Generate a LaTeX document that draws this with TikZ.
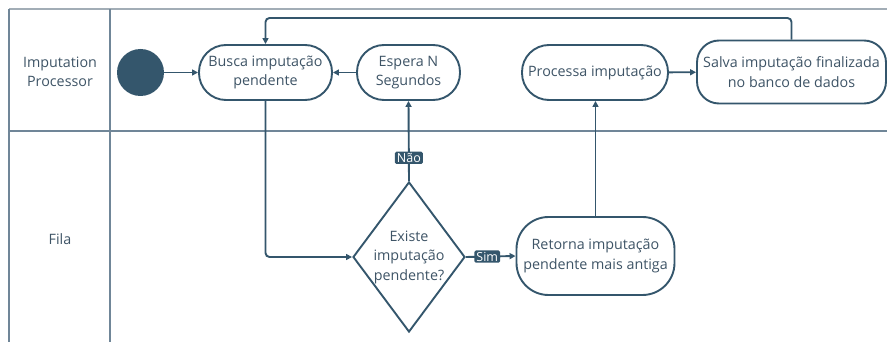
\documentclass[tikz,border=0pt]{standalone}
\usepackage{fontspec}
\setmainfont{Open Sans}
\usepackage{xcolor}
\usepackage{tikz}
\usetikzlibrary{arrows.meta, positioning, shapes.geometric}

\definecolor{slate}{RGB}{52,86,108}
\definecolor{slatetext}{RGB}{62,84,102}
\definecolor{lanegray}{RGB}{112,134,152}
\definecolor{toplight}{RGB}{162,173,182}

\begin{document}
\begin{tikzpicture}[x=1pt, y=-1pt,
    font=\fontsize{14.3}{19.5}\selectfont,
    every node/.style={text=slatetext},
    activity/.style={draw=slate, line width=1.9pt, fill=white, align=center,
      minimum height=55pt, rounded corners=27pt, inner sep=1pt},
    decision/.style={draw=slate, line width=1.9pt, fill=white, diamond, align=center,
      aspect=0.75, inner sep=-4pt, minimum width=112pt, minimum height=150pt},
    flow/.style={draw=slate, line width=1.9pt, -{Triangle[length=6pt, width=6pt]}},
    tag/.style={fill=slate, text=white, rounded corners=1.5pt, inner xsep=2pt,
      inner ysep=1.5pt, font=\fontsize{12.5}{13}\selectfont},
    lane/.style={draw=lanegray, line width=1.3pt}]
  \useasboundingbox (0,0) rectangle (887,342);

  % swimlanes
  \draw[draw=toplight, line width=1.5pt] (9,9) -- (887,9);
  \draw[lane] (9,9) -- (9,342);
  \draw[lane] (110,9) -- (110,342);
  \draw[lane] (9,131) -- (887,131);
  \node[align=center] (proc) at (60,72) {Imputation\\Processor};
  \node (fila) at (60,239) {Fila};

  % activities
  \node[circle, fill=slate, minimum size=47pt, inner sep=0pt] (start) at (140.5,72.5) {};
  \node[activity, minimum width=133pt] (busca) at (265.5,72.5) {Busca imputação\\pendente};
  \node[activity, minimum width=103pt] (espera) at (408.5,72.5) {Espera N\\Segundos};
  \node[activity, minimum width=146pt] (processa) at (595,72.5) {Processa imputação};
  \node[activity, minimum width=189pt, minimum height=63pt, rounded corners=22pt]
    (salva) at (791.5,72) {Salva imputação finalizada\\no banco de dados};
  \node[decision] (existe) at (409,257) {Existe\\imputação\\pendente?};
  \node[activity, minimum width=158pt, minimum height=78pt, rounded corners=32pt]
    (retorna) at (595.5,256) {Retorna imputação\\pendente mais antiga};

  % connectors
  \draw[flow] (start) -- (busca);
  \draw[flow] (espera) -- (busca);
  \draw[flow, rounded corners=4pt] (busca.south) |- (existe.west);
  \draw[flow] (existe.north) -- node[tag, pos=0.29] (nao) {Não} (espera.south);
  \draw[flow] (existe.east) -- node[tag, pos=0.43] (sim) {Sim} (retorna.west);
  \draw[flow] (retorna.north) -- (retorna.north |- processa.south);
  \draw[flow] (processa) -- (salva);
  \coordinate (volta) at (791.5,18);
  \draw[flow, rounded corners=4pt] (salva.north) -- (volta) -| (busca.north);
\end{tikzpicture}
\end{document}
